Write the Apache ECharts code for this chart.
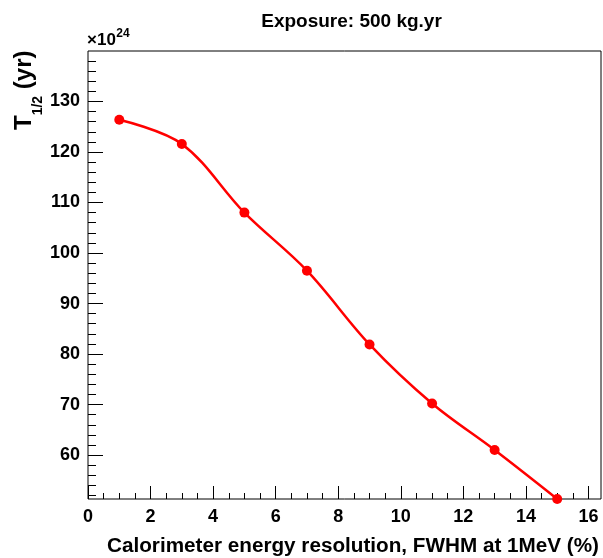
<!DOCTYPE html>
<html>
<head>
<meta charset="utf-8">
<script src="https://cdn.jsdelivr.net/npm/echarts@6/dist/echarts.min.js"></script>
<style>
html,body{margin:0;padding:0;background:#fff;}
#chart{width:603px;height:558px;}
</style>
</head>
<body>
<div id="chart"></div>
<script>
// ---- data ----
var resolution = [1, 3, 5, 7, 9, 11, 13, 15];            // FWHM at 1 MeV (%)
var halfLife = [126.4, 121.6, 108.0, 96.5, 81.9, 70.2, 61.0, 51.3]; // x 10^24 yr
var xMajorTicks = [0, 2, 4, 6, 8, 10, 12, 14, 16];
var xMinorTicks = [0, 0.5, 1, 1.5, 2, 2.5, 3, 3.5, 4, 4.5, 5, 5.5, 6, 6.5, 7, 7.5, 8, 8.5, 9, 9.5, 10, 10.5, 11, 11.5, 12, 12.5, 13, 13.5, 14, 14.5, 15, 15.5, 16];
var yMajorTicks = [60, 70, 80, 90, 100, 110, 120, 130];
var yMinorTicks = [52, 54, 56, 58, 60, 62, 64, 66, 68, 70, 72, 74, 76, 78, 80, 82, 84, 86, 88, 90, 92, 94, 96, 98, 100, 102, 104, 106, 108, 110, 112, 114, 116, 118, 120, 122, 124, 126, 128, 130, 132, 134, 136, 138];
var xRange = [0, 16.4];
var yRange = [51.3, 140];
var titleText = 'Exposure: 500 kg.yr';
var xTitle = 'Calorimeter energy resolution, FWHM at 1MeV (%)';
var yTitleMain = 'T';
var yTitleSub = '1/2';
var yTitleRest = ' (yr)';
var multBase = '×10';
var multExp = '24';

var FONT = '"Liberation Sans", Arial, Helvetica, sans-serif';

var mctx = document.createElement('canvas').getContext('2d');
function textW(str, size, weight) {
  mctx.font = (weight || 'bold') + ' ' + size + 'px ' + FONT;
  return mctx.measureText(str).width;
}

var chart = echarts.init(document.getElementById('chart'), null, {renderer: 'canvas'});
var pts = resolution.map(function (x, i) { return [x, halfLife[i]]; });

// y-title pieces (rotated, reading bottom -> top)
var yT = 24, yS = 14;
var wT = textW(yTitleMain, yT), wS = textW(yTitleSub, yS);
var yStart = 130;
function rotText(str, size, xMid, yPos) {
  return {
    type: 'text', x: xMid, y: yPos, rotation: Math.PI / 2,
    style: {text: str, align: 'left', verticalAlign: 'middle',
      font: 'bold ' + size + 'px ' + FONT, fill: '#000'}
  };
}
function plainText(str, size, weight, x, yMid, align) {
  return {
    type: 'text', x: x, y: yMid,
    style: {text: str, align: align, verticalAlign: 'middle',
      font: weight + ' ' + size + 'px ' + FONT, fill: '#000'}
  };
}
var wBase = textW(multBase, 17);

var option = {
  animation: false,
  backgroundColor: '#ffffff',
  grid: {
    left: 88, right: 2, top: 51, bottom: 59,
    show: true, borderColor: '#000', borderWidth: 1, backgroundColor: 'transparent',
    containLabel: false
  },
  xAxis: [
    {
      type: 'value', min: xRange[0], max: xRange[1], position: 'bottom',
      axisLine: {show: false}, splitLine: {show: false},
      axisTick: {show: true, inside: true, length: 6, customValues: xMinorTicks, lineStyle: {color: '#000', width: 1}},
      axisLabel: {show: true, customValues: xMajorTicks, margin: 9, color: '#000',
        fontFamily: FONT, fontSize: 18, fontWeight: 'bold'}
    },
    {
      type: 'value', min: xRange[0], max: xRange[1], position: 'bottom', offset: 0,
      axisLine: {show: false}, splitLine: {show: false},
      axisTick: {show: true, inside: true, length: 13, customValues: xMajorTicks, lineStyle: {color: '#000', width: 1}},
      axisLabel: {show: false}
    }
  ],
  yAxis: [
    {
      type: 'value', min: yRange[0], max: yRange[1], position: 'left',
      axisLine: {show: false}, splitLine: {show: false},
      axisTick: {show: true, inside: true, length: 8, customValues: yMinorTicks, lineStyle: {color: '#000', width: 1}},
      axisLabel: {show: true, customValues: yMajorTicks, margin: 8, color: '#000',
        fontFamily: FONT, fontSize: 18, fontWeight: 'bold'}
    },
    {
      type: 'value', min: yRange[0], max: yRange[1], position: 'left', offset: 0,
      axisLine: {show: false}, splitLine: {show: false},
      axisTick: {show: true, inside: true, length: 15, customValues: yMajorTicks, lineStyle: {color: '#000', width: 1}},
      axisLabel: {show: false}
    }
  ],
  graphic: [
    plainText(titleText, 19, 'bold', 351.5, 21.7, 'center'),
    plainText(xTitle, 20.7, 'bold', 599, 545.8, 'right'),
    plainText(multBase, 17, 'bold', 87, 40.1, 'left'),
    plainText(multExp, 12, 'bold', 87 + wBase + 0.5, 33.8, 'left'),
    rotText(yTitleMain, yT, 33 - 0.3465 * yT, yStart),
    rotText(yTitleSub, yS, 43 - 0.3465 * yS, yStart - wT),
    rotText(yTitleRest, yT, 33 - 0.3465 * yT, yStart - wT - wS)
  ],
  series: [
    {
      type: 'line',
      xAxisIndex: 0, yAxisIndex: 0,
      data: pts,
      smooth: 0.35,
      clip: false,
      symbol: 'circle',
      symbolSize: 10,
      showSymbol: true,
      itemStyle: {color: '#ff0000'},
      lineStyle: {color: '#ff0000', width: 2.5}
    }
  ]
};
chart.setOption(option);
</script>
</body>
</html>
